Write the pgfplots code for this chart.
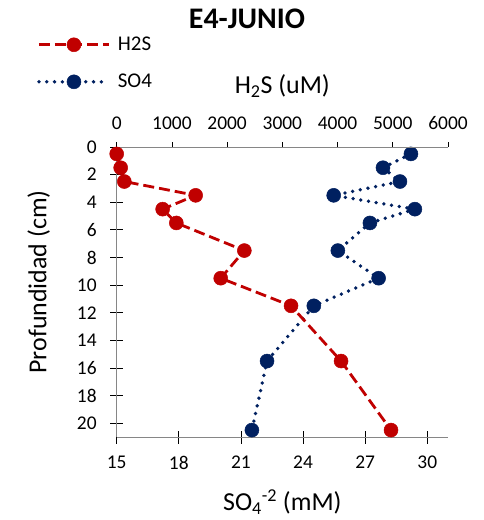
\documentclass[border=0pt]{standalone}
\usepackage{fontspec}
\setmainfont{Carlito}
\usepackage{pgfplots}
\pgfplotsset{compat=1.18}
\definecolor{myred}{RGB}{192,0,0}
\definecolor{mynavy}{RGB}{0,32,96}
\definecolor{axgray}{RGB}{134,134,134}
\pgfplotsset{
  common/.style={
    scale only axis, width=331.3bp, height=290bp,
    at={(0bp,0bp)}, anchor=south west,
    ymin=0, ymax=21, y dir=reverse,
    axis line style={axgray, line width=0.9bp},
    tick style={black, line width=0.8bp},
    tick label style={font=\fontsize{19.5}{22}\selectfont},
    label style={font=\fontsize{26}{30}\selectfont},
    /pgf/number format/assume math mode=true,
    /pgf/number format/1000 sep={},
    scaled x ticks=false,
    clip=false,
  },
  h2s/.style={myred, line width=2.8bp, dash pattern=on 11bp off 5bp, mark=*, mark size=7bp, mark options={solid, fill=myred, draw=myred, line width=0.5bp}},
  so4/.style={mynavy, line width=3.8bp, line cap=round, dash pattern=on 0bp off 7.8bp, mark=*, mark size=7bp, mark options={solid, fill=mynavy, draw=mynavy, line width=0.5bp}},
}
\begin{document}
\begin{tikzpicture}
\useasboundingbox (-116.7bp,-83bp) rectangle (367.3bp,437bp);
\begin{axis}[common,
  xmin=15, xmax=31, xtick={15,18,21,24,27,30},
  axis x line*=bottom, axis y line*=left,
  ytick={0,2,4,6,8,10,12,14,16,18,20},
  xtick align=center, ytick align=center,
  major tick length=13bp,
  xticklabel style={yshift=-9bp},
  yticklabel style={xshift=-10bp},
  xlabel={SO\textsubscript{4}\textsuperscript{-2} (mM)},
  ylabel={Profundidad (cm)},
  xlabel style={at={(axis description cs:0.5,-0.254)}, anchor=base},
  ylabel style={at={(axis description cs:-0.2356,0.535)}, anchor=center},
]
\addplot[so4] coordinates {
(29.21,0.5) (27.86,1.5) (28.68,2.5) (25.48,3.5) (29.40,4.5) (27.23,5.5)
(25.68,7.5) (27.65,9.5) (24.52,11.5) (22.26,15.5) (21.53,20.5)
};
\end{axis}
\begin{axis}[common,
  xmin=0, xmax=6000, xtick={0,1000,2000,3000,4000,5000,6000},
  axis x line*=top, axis y line=none,
  xtick align=outside, major tick length=5bp,
  xticklabel style={yshift=9bp},
  xlabel={H\textsubscript{2}S (uM)},
  xlabel style={at={(axis description cs:0.5,1.185)}, anchor=base},
  legend cell align=left,
  legend style={at={(axis description cs:-0.250,1.393)}, anchor=north west, draw=none, fill=none,
    font=\fontsize{21}{24}\selectfont, row sep=18bp,
    nodes={inner xsep=7bp}},
  legend image code/.code={\draw[mark repeat=2,mark phase=2,#1] plot coordinates {(0bp,0bp) (35bp,0bp) (70bp,0bp)};},
]
\addplot[h2s] coordinates {
(0,0.5) (72,1.5) (138,2.5) (1430,3.5) (832,4.5) (1080,5.5)
(2312,7.5) (1884,9.5) (3157,11.5) (4063,15.5) (4968,20.5)
};
\addlegendentry{H2S}
\addlegendimage{so4}
\addlegendentry{SO4}
\end{axis}
\node[font=\bfseries\fontsize{30}{34}\selectfont, anchor=base] at (130.3bp,408.7bp) {E4-JUNIO};
\end{tikzpicture}
\end{document}
